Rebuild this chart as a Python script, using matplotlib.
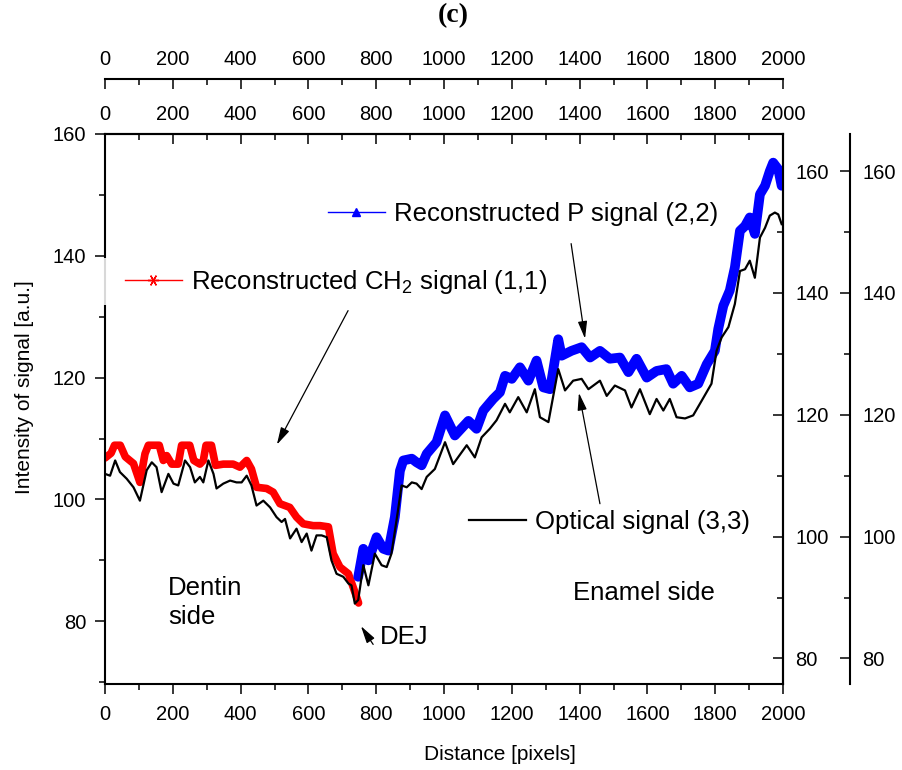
import matplotlib
matplotlib.use("Agg")
import matplotlib.pyplot as plt
from matplotlib.lines import Line2D
from matplotlib.patches import Rectangle
from matplotlib.ticker import MultipleLocator

plt.rcParams['font.family'] = ['Liberation Sans', 'DejaVu Sans']
plt.rcParams['mathtext.fontset'] = 'custom'
plt.rcParams['mathtext.rm'] = 'Liberation Sans'
plt.rcParams['mathtext.it'] = 'Liberation Sans:italic'

# reconstructed CH2 signal, layer 1 (left axis)
ch2_x = [0, 18, 28, 45, 60, 84, 103, 118, 128, 160, 172, 182, 197, 216, 226, 250, 262,
         280, 290, 298, 314, 326, 349, 378, 398, 418, 432, 447, 477, 496, 516, 545, 565,
         585, 614, 634, 659, 673, 693, 718, 732, 742, 748]
ch2_y = [106.8, 107.6, 108.9, 108.9, 107.0, 105.9, 102.8, 107.5, 108.9, 108.9, 106.4,
         107.2, 105.8, 105.8, 108.9, 108.9, 106.4, 105.8, 106.4, 108.9, 108.9, 105.6,
         105.8, 105.8, 105.3, 106.4, 105.0, 102.0, 101.8, 101.2, 99.3, 98.7, 97.1, 96.0,
         95.7, 95.7, 95.5, 91.1, 88.9, 87.8, 85.6, 84.0, 83.0]

# reconstructed P signal, layer 2 (inner right axis)
p_x = [747, 762, 777, 801, 821, 836, 855, 870, 880, 905, 919, 934, 949, 978, 1003, 1032,
       1072, 1096, 1116, 1145, 1165, 1180, 1200, 1224, 1249, 1273, 1293, 1313, 1337, 1347,
       1376, 1406, 1431, 1460, 1489, 1519, 1544, 1568, 1598, 1627, 1656, 1676, 1701, 1725,
       1750, 1775, 1799, 1809, 1824, 1843, 1858, 1873, 1888, 1902, 1917, 1932, 1947, 1961,
       1971, 1986, 1996]
p_y = [93.4, 98.0, 96.1, 99.9, 98.0, 97.7, 103.2, 110.8, 112.5, 112.8, 112.2, 111.7, 113.6,
       115.5, 119.9, 116.6, 119.0, 117.7, 120.7, 122.6, 123.7, 126.4, 125.9, 127.8, 125.6,
       128.9, 124.5, 124.2, 132.4, 129.7, 130.5, 131.1, 129.4, 130.5, 129.2, 129.4, 127.0,
       129.2, 126.1, 127.2, 127.5, 125.1, 126.4, 124.5, 125.1, 128.3, 130.5, 134.1, 137.9,
       140.4, 144.2, 150.2, 151.0, 152.4, 149.7, 156.2, 157.6, 160.0, 161.4, 160.3, 157.6]

# optical signal, layer 3 (outer right axis)
opt_x = [0, 15, 30, 44, 64, 84, 103, 123, 138, 152, 167, 187, 202, 216, 236, 251, 265, 280,
         290, 305, 320, 329, 349, 369, 388, 403, 418, 432, 447, 467, 487, 506, 521, 531, 546,
         565, 580, 595, 609, 624, 639, 654, 668, 683, 703, 718, 727, 737, 747, 762, 777, 796,
         816, 831, 845, 860, 875, 890, 905, 919, 934, 949, 973, 1003, 1027, 1067, 1091, 1111,
         1135, 1155, 1180, 1194, 1219, 1244, 1268, 1283, 1308, 1337, 1357, 1381, 1406, 1426,
         1460, 1480, 1504, 1534, 1553, 1578, 1607, 1627, 1647, 1666, 1686, 1711, 1735, 1760,
         1789, 1804, 1819, 1839, 1858, 1873, 1888, 1902, 1917, 1932, 1947, 1961, 1976, 1986,
         1996]
opt_y = [110.3, 110.0, 112.5, 110.6, 109.5, 108.1, 105.9, 110.9, 112.2, 111.4, 107.3, 110.3,
         108.7, 108.4, 112.5, 111.4, 108.9, 109.8, 108.9, 112.5, 110.3, 107.9, 108.7, 109.2,
         108.9, 108.9, 110.0, 108.4, 105.1, 105.9, 104.8, 103.2, 102.4, 102.9, 99.7, 101.3,
         99.1, 100.5, 97.7, 100.2, 100.2, 99.9, 96.1, 93.9, 93.4, 92.3, 92.0, 89.0, 89.6, 95.3,
         92.0, 97.2, 95.3, 95.0, 97.2, 102.7, 108.4, 108.1, 108.9, 108.7, 107.8, 109.8, 111.1,
         115.5, 111.9, 115.0, 113.0, 116.3, 117.7, 119.1, 121.8, 120.4, 122.9, 120.4, 124.2,
         119.6, 118.8, 127.5, 124.0, 125.6, 125.9, 124.2, 125.6, 123.1, 124.8, 124.0, 121.2,
         124.2, 120.1, 122.6, 120.7, 122.6, 119.6, 119.4, 119.9, 122.3, 125.1, 130.5, 132.7,
         134.4, 138.2, 143.6, 143.9, 145.3, 142.5, 149.1, 150.7, 152.7, 153.2, 152.9, 151.3]

W, H = 902, 770
L, R, T, B = 105, 783, 134, 684
fig = plt.figure(figsize=(W / 100, H / 100), dpi=100)
ax = fig.add_axes([L / W, 1 - B / H, (R - L) / W, (B - T) / H])
ax2 = ax.twinx()
ax3 = ax.twinx()

ax.plot(ch2_x, ch2_y, color='red', lw=5.5, solid_joinstyle='round', solid_capstyle='round')
ax2.plot(p_x, p_y, color='blue', lw=7, solid_joinstyle='round', solid_capstyle='round')
ax3.plot(opt_x, opt_y, color='black', lw=1.6)

ax.set_xlim(0, 2000)
ax.set_ylim(69.7, 160)
ax2.set_ylim(75.8, 166.1)
ax3.set_ylim(75.8, 166.1)
ax3.spines['right'].set_position(('axes', (850 - L) / (R - L)))

for a in (ax, ax2, ax3):
    for s in a.spines.values():
        s.set_linewidth(1.5)
for a in (ax2, ax3):
    for side in ('top', 'bottom', 'left'):
        a.spines[side].set_visible(False)

ax.xaxis.set_major_locator(MultipleLocator(200))
ax.xaxis.set_minor_locator(MultipleLocator(100))
for a in (ax, ax2, ax3):
    a.yaxis.set_major_locator(MultipleLocator(20))
    a.yaxis.set_minor_locator(MultipleLocator(10))

ax.tick_params(axis='x', which='both', direction='out', top=False, labelsize=14.5, pad=7.5)
ax.tick_params(axis='y', which='both', direction='out', right=False, labelsize=14.5, pad=6)
ax2.tick_params(axis='y', which='both', direction='in', labelsize=14.5, pad=9)
ax3.tick_params(axis='y', which='both', direction='in', labelsize=14.5, pad=9)
for a in (ax, ax2, ax3):
    a.tick_params(which='major', length=7.5, width=1.1)
    a.tick_params(which='minor', length=4, width=1.1)

# two top distance axes
for loc in (1.0, 1 + (T - 79) / (B - T)):
    sec = ax.secondary_xaxis(loc)
    sec.xaxis.set_major_locator(MultipleLocator(200))
    sec.xaxis.set_minor_locator(MultipleLocator(100))
    sec.tick_params(which='both', direction='in', labelsize=14.5, pad=7.5, width=1.1)
    sec.tick_params(which='major', length=7.5)
    sec.tick_params(which='minor', length=4)
    sec.spines['top'].set_linewidth(1.5)

legend_kw = dict(loc='center left', frameon=False, fontsize=18.5, handlelength=2.2,
                 handletextpad=0.35, borderpad=0, borderaxespad=0, numpoints=1)
h1 = Line2D([], [], color='red', lw=1, marker=(6, 2, 90), ms=8, mew=1)
h2 = Line2D([], [], color='blue', lw=1, marker='^', ms=6)
h3 = Line2D([], [], color='black', lw=1.6)
ax.legend([h1], ['Reconstructed CH$_2$ signal (1,1)'], bbox_to_anchor=(0.0295, 0.731), **legend_kw)
ax2.legend([h2], ['Reconstructed P signal (2,2)'], bbox_to_anchor=(0.329, 0.8545), **legend_kw)
ax3.legend([h3], ['Optical signal (3,3)'], bbox_to_anchor=(0.537, 0.2945), **legend_kw)

# legend box hides part of the left axis line
fig.add_artist(Rectangle((100 / W, 1 - 305 / H), 12 / W, 47 / H, transform=fig.transFigure,
                         facecolor='white', edgecolor='none', alpha=0.85, zorder=3))

arrow = dict(arrowstyle='-|>,head_length=0.75,head_width=0.2', color='black', lw=0.9,
             shrinkA=0, shrinkB=0, mutation_scale=14)
for tip, tail in [((507, 109.0), (717, 131.0)),
                  ((1416, 126.4), (1375, 142.0)),
                  ((1398, 117.5), (1460, 99.3)),
                  ((755, 79.2), (791, 76.2))]:
    ax3.annotate('', xy=tip, xycoords=ax.transData, xytext=tail, textcoords=ax.transData,
                 arrowprops=arrow)

txt = dict(transform=ax.transData, fontsize=18.5, ha='left', va='center')
ax3.text(186, 83.1, 'Dentin\nside', linespacing=1.25, **txt)
ax3.text(1381, 84.6, 'Enamel side', **txt)
ax3.text(811, 77.4, 'DEJ', **txt)

fig.text(453 / W, 1 - 16 / H, '(c)', ha='center', va='center', fontsize=20, fontweight='bold',
         family=['Liberation Serif', 'DejaVu Serif'])
fig.text(25 / W, 1 - 387 / H, 'Intensity of signal [a.u.]', rotation=90, ha='center',
         va='center', fontsize=15)
fig.text(500 / W, 1 - 755 / H, 'Distance [pixels]', ha='center', va='center', fontsize=15)

fig.savefig('out.png', dpi=100)
